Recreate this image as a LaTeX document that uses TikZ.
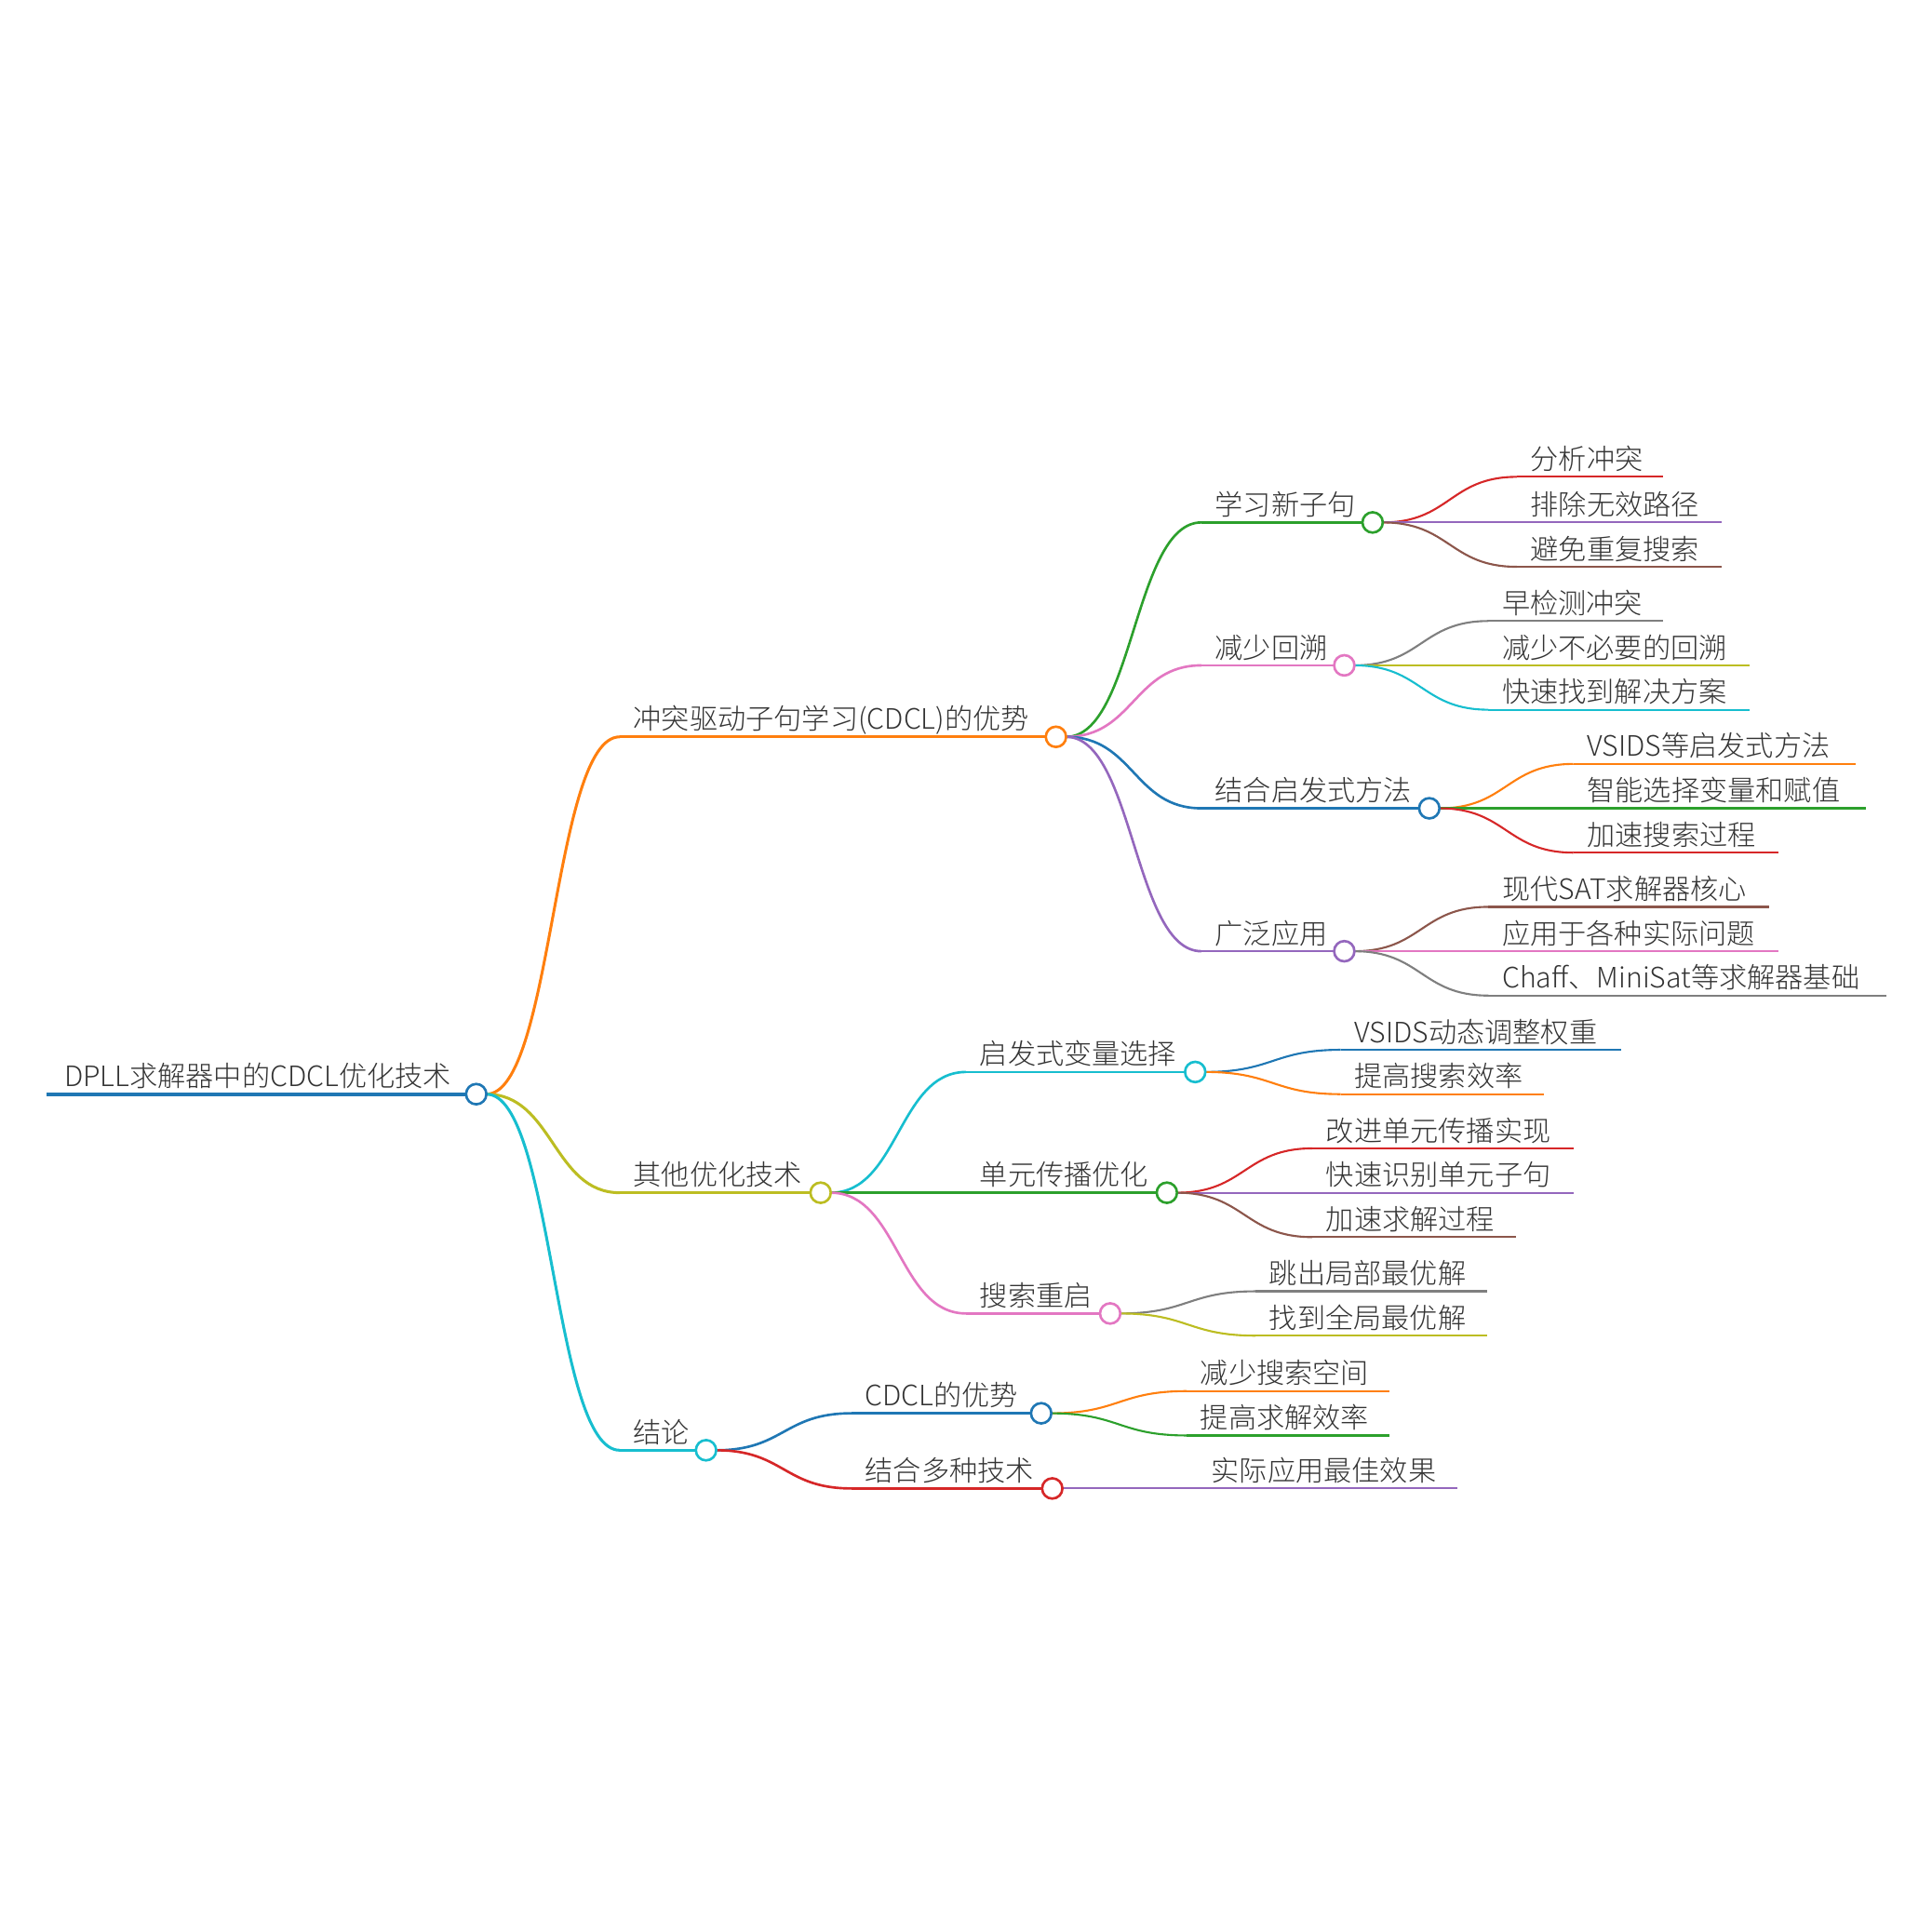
\documentclass[tikz,border=0pt]{standalone}
\usepackage{fontspec}
\setmainfont{Noto Sans CJK SC}[UprightFont=* Light]
\usetikzlibrary{calc}
\pgfdeclarelayer{bg}
\pgfsetlayers{bg,main}
\definecolor{cblue}{HTML}{1F77B4}
\definecolor{corange}{HTML}{FF7F0E}
\definecolor{cgreen}{HTML}{2CA02C}
\definecolor{cred}{HTML}{D62728}
\definecolor{cpurple}{HTML}{9467BD}
\definecolor{cbrown}{HTML}{8C564B}
\definecolor{cpink}{HTML}{E377C2}
\definecolor{cgray}{HTML}{7F7F7F}
\definecolor{colive}{HTML}{BCBD22}
\definecolor{ccyan}{HTML}{17BECF}
\definecolor{txtc}{HTML}{333333}
% #1 name, #2 colour, #3 left x, #4 y, #5 circle x, #6 text, #7 width style
\newcommand\mmbranch[7]{%
  \coordinate (#1-l) at (#3,#4);
  \node[dot, draw=#2] (#1-c) at (#5,#4) {};
  \begin{pgfonlayer}{bg}\draw[#7, draw=#2] (#1-l) -- (#1-c.center);\end{pgfonlayer}
  \node[txt] (#1) at ($(#1-l)+(11,-6)$) {#6};
}
% #1 name, #2 colour, #3 left x, #4 y, #5 right x, #6 text, #7 width style
\newcommand\mmleaf[7]{%
  \coordinate (#1-l) at (#3,#4);
  \coordinate (#1-r) at (#5,#4);
  \begin{pgfonlayer}{bg}\draw[#7, draw=#2] (#1-l) -- (#1-r);\end{pgfonlayer}
  \node[txt] (#1) at ($(#1-l)+(11,-6)$) {#6};
}
% #1 parent, #2 child, #3 style
\newcommand\mmlink[3]{%
  \path ($(#1-c.east)!0.5!(#2-l)$) coordinate (mm-mid);
  \begin{pgfonlayer}{bg}\draw[#3] (#1-c.east) .. controls (mm-mid |- #1-c.east) and (mm-mid |- #2-l) .. (#2-l);\end{pgfonlayer}
}
\begin{document}
\begin{tikzpicture}[x=1pt,y=-1pt,
  txt/.style={anchor=base west, inner sep=0pt, text=txtc, font=\fontsize{22.8}{26}\selectfont},
  dot/.style={circle, fill=white, line width=2pt, minimum size=16.5pt, inner sep=0pt, outer sep=0pt},
  l0/.style={line width=3pt},
  l1/.style={line width=2.3pt},
  l2/.style={line width=2pt},
  l3/.style={line width=1.6pt}]
\useasboundingbox (0,0) rectangle (1568,1568);
% root
\coordinate (R-l) at (38,888);
\node[dot, draw=cblue] (R-c) at (386.5,888) {};
\begin{pgfonlayer}{bg}\draw[l0, draw=cblue] (R-l) -- (R-c.center);\end{pgfonlayer}
\node[txt] (R) at ($(R-l)+(14,-6)$) {DPLL求解器中的CDCL优化技术};

% level 1
\mmbranch{A}{corange}{503}{598}{857}{冲突驱动子句学习(CDCL)的优势}{l1}
\mmbranch{B}{colive}{503}{968}{666}{其他优化技术}{l1}
\mmbranch{C}{ccyan}{503}{1177}{573}{结论}{l1}
\mmlink{R}{A}{l1, draw=corange}
\mmlink{R}{B}{l1, draw=colive}
\mmlink{R}{C}{l1, draw=ccyan}

% under A
\mmbranch{A1}{cgreen}{975}{424}{1114}{学习新子句}{l2}
\mmbranch{A2}{cpink}{975}{540}{1091}{减少回溯}{l2}
\mmbranch{A3}{cblue}{975}{656}{1160}{结合启发式方法}{l2}
\mmbranch{A4}{cpurple}{975}{772}{1091}{广泛应用}{l2}
\mmlink{A}{A1}{l2, draw=cgreen}
\mmlink{A}{A2}{l2, draw=cpink}
\mmlink{A}{A3}{l2, draw=cblue}
\mmlink{A}{A4}{l2, draw=cpurple}

\mmleaf{A1a}{cred}{1231}{387}{1350}{分析冲突}{l3}
\mmleaf{A1b}{cpurple}{1231}{424}{1397}{排除无效路径}{l3}
\mmleaf{A1c}{cbrown}{1231}{460}{1397}{避免重复搜索}{l3}
\mmlink{A1}{A1a}{l3, draw=cred}
\mmlink{A1}{A1b}{l3, draw=cpurple}
\mmlink{A1}{A1c}{l3, draw=cbrown}

\mmleaf{A2a}{cgray}{1208}{504}{1350}{早检测冲突}{l3}
\mmleaf{A2b}{colive}{1208}{540}{1420}{减少不必要的回溯}{l3}
\mmleaf{A2c}{ccyan}{1208}{576}{1420}{快速找到解决方案}{l3}
\mmlink{A2}{A2a}{l3, draw=cgray}
\mmlink{A2}{A2b}{l3, draw=colive}
\mmlink{A2}{A2c}{l3, draw=ccyan}

\mmleaf{A3a}{corange}{1277}{620}{1506}{VSIDS等启发式方法}{l3}
\mmleaf{A3b}{cgreen}{1277}{656}{1514}{智能选择变量和赋值}{l3}
\mmleaf{A3c}{cred}{1277}{692}{1443}{加速搜索过程}{l3}
\mmlink{A3}{A3a}{l3, draw=corange}
\mmlink{A3}{A3b}{l3, draw=cgreen}
\mmlink{A3}{A3c}{l3, draw=cred}

\mmleaf{A4a}{cbrown}{1208}{736}{1436}{现代SAT求解器核心}{l3}
\mmleaf{A4b}{cpink}{1208}{772}{1443}{应用于各种实际问题}{l3}
\mmleaf{A4c}{cgray}{1208}{808}{1531}{Chaff、MiniSat等求解器基础}{l3}
\mmlink{A4}{A4a}{l3, draw=cbrown}
\mmlink{A4}{A4b}{l3, draw=cpink}
\mmlink{A4}{A4c}{l3, draw=cgray}

% under B
\mmbranch{B1}{ccyan}{784}{870}{970}{启发式变量选择}{l2}
\mmbranch{B2}{cgreen}{784}{968}{947}{单元传播优化}{l2}
\mmbranch{B3}{cpink}{784}{1066}{901}{搜索重启}{l2}
\mmlink{B}{B1}{l2, draw=ccyan}
\mmlink{B}{B2}{l2, draw=cgreen}
\mmlink{B}{B3}{l2, draw=cpink}

\mmleaf{B1a}{cblue}{1088}{852}{1316}{VSIDS动态调整权重}{l3}
\mmleaf{B1b}{corange}{1088}{888}{1253}{提高搜索效率}{l3}
\mmlink{B1}{B1a}{l3, draw=cblue}
\mmlink{B1}{B1b}{l3, draw=corange}

\mmleaf{B2a}{cred}{1065}{932}{1277}{改进单元传播实现}{l3}
\mmleaf{B2b}{cpurple}{1065}{968}{1277}{快速识别单元子句}{l3}
\mmleaf{B2c}{cbrown}{1065}{1004}{1230}{加速求解过程}{l3}
\mmlink{B2}{B2a}{l3, draw=cred}
\mmlink{B2}{B2b}{l3, draw=cpurple}
\mmlink{B2}{B2c}{l3, draw=cbrown}

\mmleaf{B3a}{cgray}{1019}{1048}{1207}{跳出局部最优解}{l3}
\mmleaf{B3b}{colive}{1019}{1084}{1207}{找到全局最优解}{l3}
\mmlink{B3}{B3a}{l3, draw=cgray}
\mmlink{B3}{B3b}{l3, draw=colive}

% under C
\mmbranch{C1}{cblue}{691}{1147}{845}{CDCL的优势}{l2}
\mmbranch{C2}{cred}{691}{1208}{854}{结合多种技术}{l2}
\mmlink{C}{C1}{l2, draw=cblue}
\mmlink{C}{C2}{l2, draw=cred}

\mmleaf{C1a}{corange}{963}{1129}{1128}{减少搜索空间}{l3}
\mmleaf{C1b}{cgreen}{963}{1165}{1128}{提高求解效率}{l3}
\mmlink{C1}{C1a}{l3, draw=corange}
\mmlink{C1}{C1b}{l3, draw=cgreen}

\mmleaf{C2a}{cpurple}{972}{1208}{1183}{实际应用最佳效果}{l3}
\mmlink{C2}{C2a}{l3, draw=cpurple}
\end{tikzpicture}
\end{document}
